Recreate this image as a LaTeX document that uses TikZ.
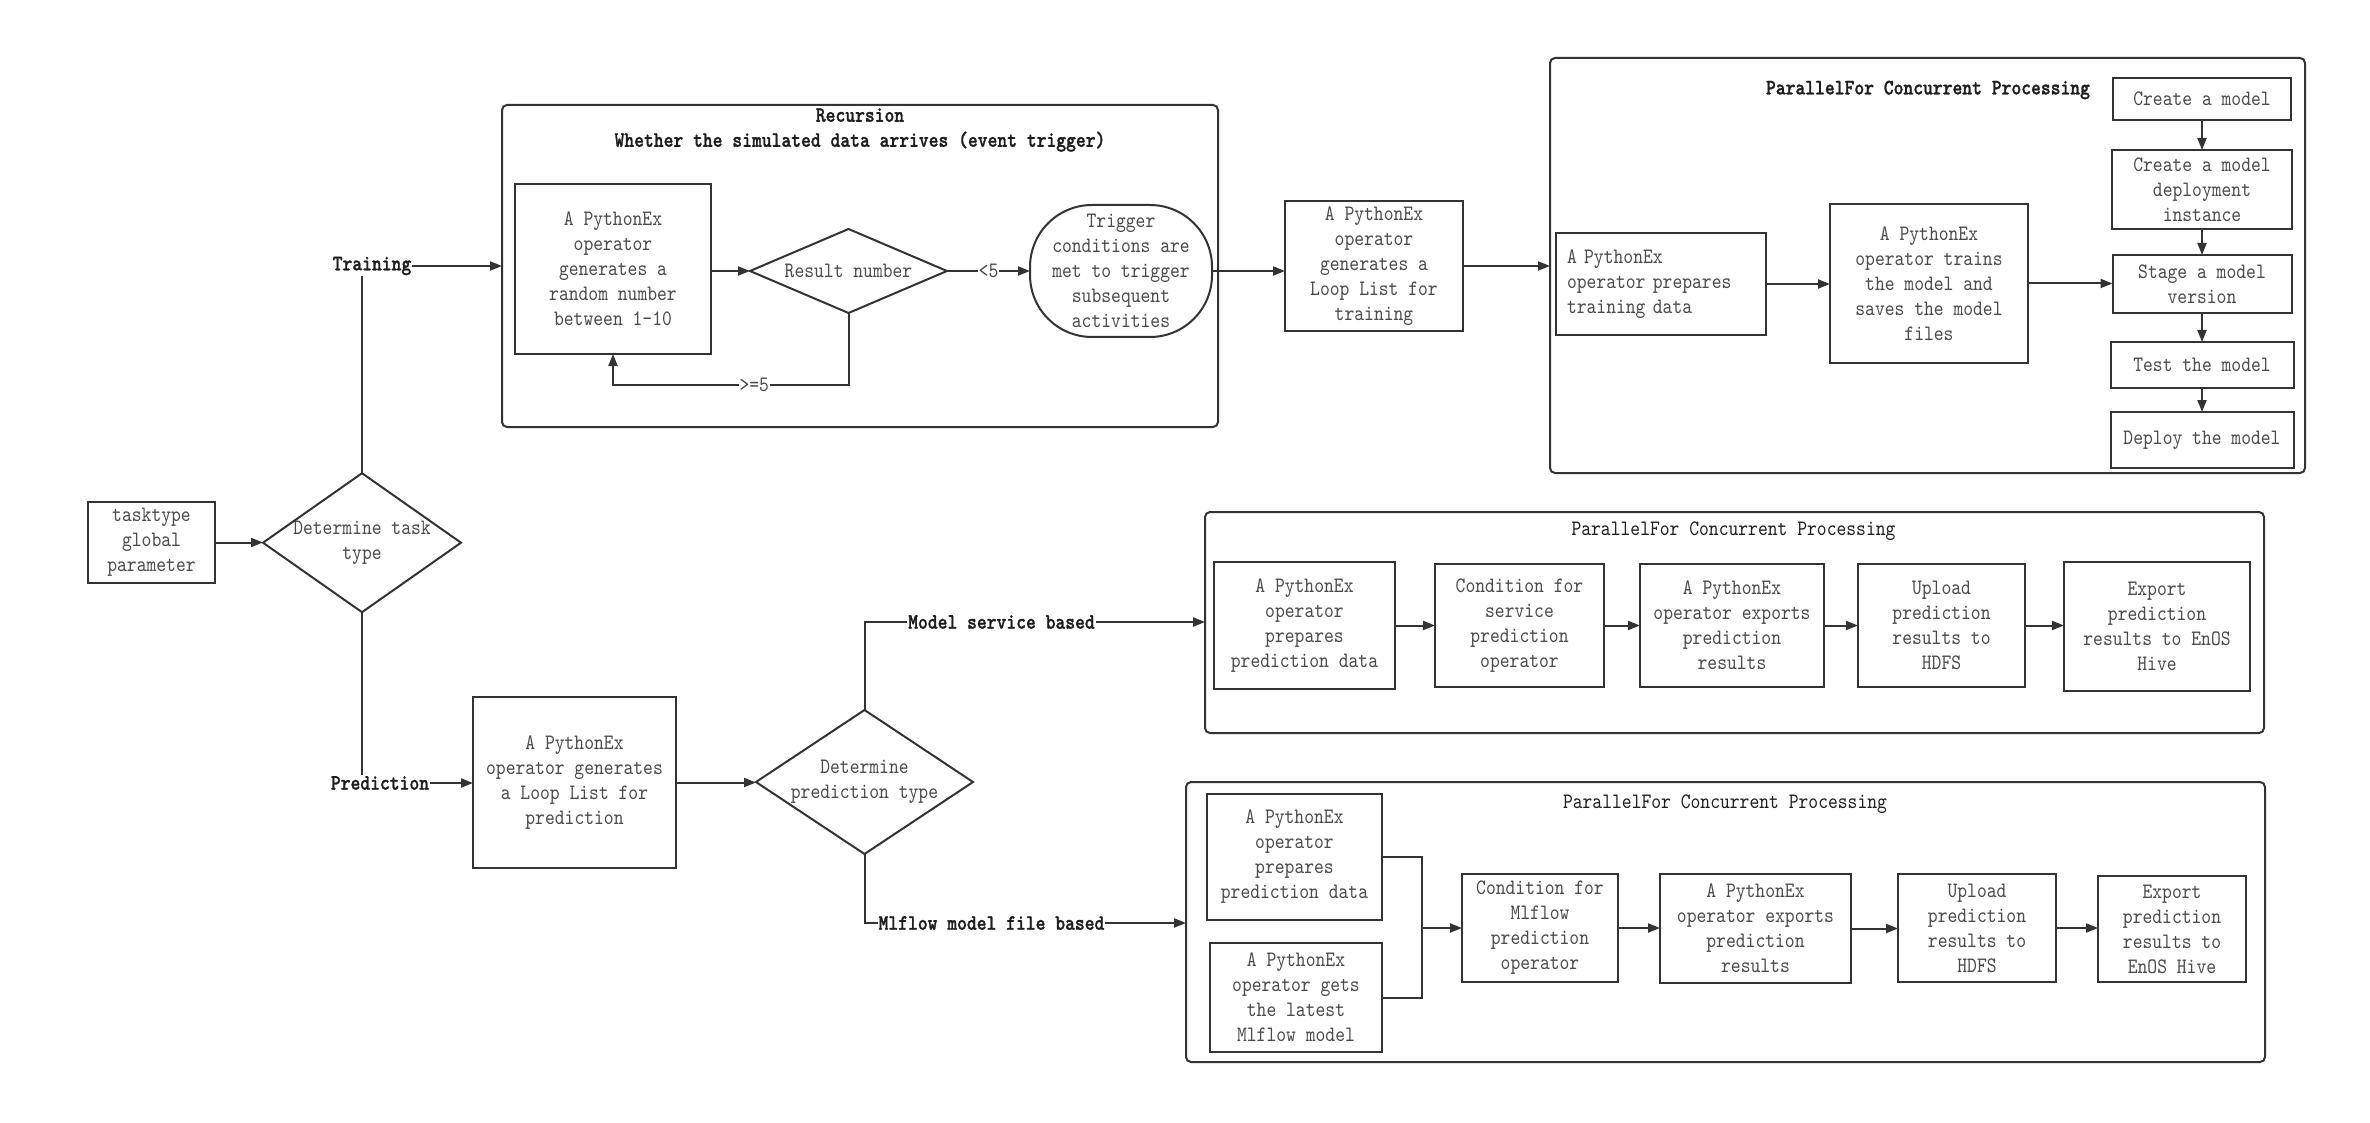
\documentclass[tikz,border=0pt]{standalone}
\usepackage{fontspec}
\newfontfamily\dfont{lmmono10-regular.otf}[FakeStretch=0.85,BoldFont=lmmonolt10-bold.otf,BoldFeatures={FakeBold=1.2}]
\usetikzlibrary{arrows.meta}
\definecolor{ln}{HTML}{333333}
\definecolor{tx}{HTML}{4A4A4A}
\definecolor{tb}{HTML}{1E1E1E}
\begin{document}
\begin{tikzpicture}[x=1pt,y=-1pt,
  every node/.style={font=\dfont\fontsize{22}{25}\selectfont, outer sep=0pt},
  box/.style={draw=ln, line width=2pt, text=tx, align=center, inner sep=2pt},
  cont/.style={draw=ln, line width=2pt, rounded corners=5pt},
  lbl/.style={font=\dfont\bfseries\fontsize{22}{25}\selectfont, text=tb, inner sep=1pt},
  dia/.style={text=tx, align=center, inner sep=0pt},
  conn/.style={draw=ln, line width=2pt},
  arr/.style={conn, -{Triangle[length=12pt,width=9pt]}},
  elbl/.style={fill=white, text=tx, inner sep=1pt},
  diadraw/.style={draw=ln, line width=2pt, line join=miter},
]
\fill[white] (0,0) rectangle (2370,1123);
\useasboundingbox (0,0) rectangle (2370,1123);

% containers
\node[cont, minimum width=716pt, minimum height=322pt] (rec) at (860,266) {};
\node[cont, minimum width=755pt, minimum height=415pt] (p1) at (1927.5,265.5) {};
\node[cont, minimum width=1059pt, minimum height=221pt] (c2) at (1734.5,622.5) {};
\node[cont, minimum width=1079pt, minimum height=280pt] (c3) at (1725.5,922) {};

% titles
\node[lbl, align=center] (rect) at (860,130) {Recursion\\Whether the simulated data arrives (event trigger)};
\node[lbl] (p1t) at (1928,90) {ParallelFor Concurrent Processing};
\node[text=tb] (c2t) at (1733.5,531) {ParallelFor Concurrent Processing};
\node[text=tb] (c3t) at (1725,804) {ParallelFor Concurrent Processing};

% left part
\node[box, minimum width=127pt, minimum height=81pt] (task) at (151.5,542.5) {tasktype\\global\\parameter};
\node[dia, minimum width=198pt, minimum height=139pt] (dt) at (362,542.7) {Determine task\\type};
\draw[diadraw] (dt.north) -- (dt.east) -- (dt.south) -- (dt.west) -- cycle;
\node[lbl] (train) at (372,266) {Training};
\node[lbl] (pred) at (380,783) {Prediction};

% recursion
\node[box, minimum width=196pt, minimum height=170pt] (rnd) at (613,269) {A PythonEx\\operator\\generates a\\random number\\between 1-10};
\node[dia, minimum width=197pt, minimum height=84pt] (res) at (848.5,271) {Result number};
\draw[diadraw] (res.north) -- (res.east) -- (res.south) -- (res.west) -- cycle;
\node[box, rounded corners=62pt, minimum width=182pt, minimum height=132pt] (trig) at (1121,271) {Trigger\\conditions are\\met to trigger\\subsequent\\activities};
\coordinate (fb) at (848.5,385);

% training chain
\node[box, minimum width=178pt, minimum height=130pt] (lt) at (1374,266) {A PythonEx\\operator\\generates a\\Loop List for\\training};
\node[box, minimum width=210pt, minimum height=102pt, text width=188pt, align=left] (ptd) at (1661,284) {A PythonEx\\operator prepares\\training data};
\node[box, minimum width=198pt, minimum height=159pt] (trn) at (1929,283.5) {A PythonEx\\operator trains\\the model and\\saves the model\\files};
\node[box, minimum width=178pt, minimum height=42pt] (cm) at (2202,99) {Create a model};
\node[box, minimum width=180pt, minimum height=79pt] (cmd) at (2202,189.5) {Create a model\\deployment\\instance};
\node[box, minimum width=179pt, minimum height=58pt] (stg) at (2202,284) {Stage a model\\version};
\node[box, minimum width=183pt, minimum height=46pt] (tst) at (2202,365) {Test the model};
\node[box, minimum width=183pt, minimum height=56pt] (dep) at (2202,440) {Deploy the model};

% prediction
\node[box, minimum width=203pt, minimum height=171pt] (lp) at (574.5,782.5) {A PythonEx\\operator generates\\a Loop List for\\prediction};
\node[dia, minimum width=217pt, minimum height=144pt] (dp) at (864.5,782) {Determine\\prediction type};
\draw[diadraw] (dp.north) -- (dp.east) -- (dp.south) -- (dp.west) -- cycle;
\node[lbl] (msb) at (1001.5,622) {Model service based};
\node[lbl] (mfb) at (991.5,923) {Mlflow model file based};

% container 2
\node[box, minimum width=181pt, minimum height=127pt] (a1) at (1304.5,625.5) {A PythonEx\\operator\\prepares\\prediction data};
\node[box, minimum width=169pt, minimum height=123pt] (a2) at (1519.5,625.5) {Condition for\\service\\prediction\\operator};
\node[box, minimum width=184pt, minimum height=123pt] (a3) at (1732,625.5) {A PythonEx\\operator exports\\prediction\\results};
\node[box, minimum width=167pt, minimum height=123pt] (a4) at (1941.5,625.5) {Upload\\prediction\\results to\\HDFS};
\node[box, minimum width=186pt, minimum height=129pt] (a5) at (2157,626) {Export\\prediction\\results to EnOS\\Hive};

% container 3
\node[box, minimum width=175pt, minimum height=126pt] (b1) at (1294.5,857) {A PythonEx\\operator\\prepares\\prediction data};
\node[box, minimum width=172pt, minimum height=109pt] (b2) at (1296,997.5) {A PythonEx\\operator gets\\the latest\\Mlflow model};
\node[box, minimum width=156pt, minimum height=108pt] (b3) at (1540,928) {Condition for\\Mlflow\\prediction\\operator};
\node[box, minimum width=191pt, minimum height=109pt] (b4) at (1755.5,928.5) {A PythonEx\\operator exports\\prediction\\results};
\node[box, minimum width=158pt, minimum height=108pt] (b5) at (1977,928) {Upload\\prediction\\results to\\HDFS};
\node[box, minimum width=148pt, minimum height=106pt] (b6) at (2172,929) {Export\\prediction\\results to\\EnOS Hive};
\coordinate (mg) at (1422,928);

% connectors
\draw[arr] (task.east) -- (task.east -| dt.west);
\draw[conn] (dt.north) -- (dt.north |- train.south);
\draw[arr] (train.east) -- (train.east -| rec.west);
\draw[conn] (dt.south) -- (dt.south |- pred.north);
\draw[arr] (pred.east) -- (pred.east -| lp.west);

\draw[arr] (rnd.east |- res.west) -- (res.west);
\draw[arr] (res.east) -- node[elbl] {<5} (trig.west);
\draw[arr] (res.south) -- (fb) -- node[elbl, pos=0.4] {>=5} (fb -| rnd.south) -- (rnd.south);
\draw[arr] (trig.east) -- (trig.east -| lt.west);
\draw[arr] (lt.east) -- (lt.east -| p1.west);
\draw[arr] (ptd.east) -- (ptd.east -| trn.west);
\draw[arr] (trn.east) -- (trn.east -| stg.west);
\draw[arr] (cm.south) -- (cmd.north);
\draw[arr] (cmd.south) -- (stg.north);
\draw[arr] (stg.south) -- (tst.north);
\draw[arr] (tst.south) -- (dep.north);

\draw[arr] (lp.east) -- (lp.east -| dp.west);
\draw[conn] (dp.north) |- (msb.west);
\draw[arr] (msb.east) -- (msb.east -| c2.west);
\draw[conn] (dp.south) |- (mfb.west);
\draw[arr] (mfb.east) -- (mfb.east -| c3.west);

\draw[arr] (a1.east) -- (a1.east -| a2.west);
\draw[arr] (a2.east) -- (a2.east -| a3.west);
\draw[arr] (a3.east) -- (a3.east -| a4.west);
\draw[arr] (a4.east) -- (a4.east -| a5.west);

\draw[conn] (b1.east) -| (mg);
\draw[conn] (b2.east) -| (mg);
\draw[arr] (mg) -- (b3.west);
\draw[arr] (b3.east) -- (b3.east -| b4.west);
\draw[arr] (b4.east) -- (b4.east -| b5.west);
\draw[arr] (b5.east) -- (b5.east -| b6.west);
\end{tikzpicture}
\end{document}
